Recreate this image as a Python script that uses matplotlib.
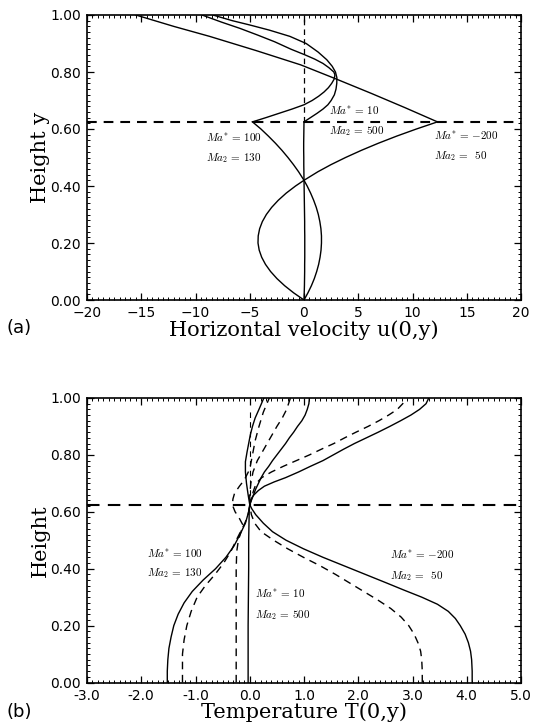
import matplotlib
matplotlib.use('Agg')
import matplotlib.pyplot as plt
from matplotlib.ticker import MultipleLocator, FormatStrFormatter

plt.rcParams['mathtext.fontset'] = 'cm'
plt.rcParams['lines.scale_dashes'] = False

# ---- (a) horizontal velocity u(0,y) ----
# lower layer (0 <= y <= 0.625)
y_low = [0, 0.025, 0.05, 0.075, 0.1, 0.125, 0.15, 0.175, 0.2, 0.225, 0.25, 0.275, 0.3,
         0.325, 0.35, 0.375, 0.4, 0.42, 0.45, 0.475, 0.5, 0.525, 0.55, 0.575, 0.6, 0.625]
u_m200_low = [0, -0.95, -1.78, -2.49, -3.08, -3.55, -3.90, -4.13, -4.24, -4.22, -4.09, -3.84,
              -3.47, -2.98, -2.37, -1.64, -0.78, 0, 1.28, 2.49, 3.83, 5.28, 6.85, 8.54,
              10.36, 12.3]
u_m100_low = [0, 0.36, 0.68, 0.95, 1.17, 1.35, 1.48, 1.57, 1.61, 1.61, 1.56, 1.46, 1.32,
              1.13, 0.89, 0.61, 0.29, 0, -0.50, -0.97, -1.48, -2.03, -2.63, -3.28, -3.97,
              -4.75]
u_m10_low = [0, 0.02, 0.04, 0.05, 0.06, 0.06, 0.07, 0.07, 0.07, 0.07, 0.06, 0.06, 0.05,
             0.04, 0.03, 0.02, 0.01, 0, -0.01, -0.02, -0.02, -0.03, -0.03, -0.02, -0.01, 0]
# upper layer (0.625 <= y <= 1)
y_m200_up = [0.625, 0.675, 0.725, 0.778, 0.825, 0.875, 0.925, 0.96, 1.0]
u_m200_up = [12.3, 9.3, 6.2, 2.8, -0.3, -4.4, -8.7, -12.0, -15.5]
y_m100_up = [0.625, 0.64, 0.655, 0.67, 0.685, 0.70, 0.715, 0.73, 0.745, 0.76, 0.775, 0.79,
             0.80, 0.815, 0.83, 0.845, 0.86, 0.88, 0.906, 0.93, 0.953, 0.975, 1.0]
u_m100_up = [-4.75, -3.5, -2.3, -1.1, 0.0, 0.75, 1.35, 1.85, 2.25, 2.55, 2.78, 2.85,
             2.75, 2.3, 1.75, 1.0, 0.1, -1.2, -2.7, -4.3, -5.9, -7.6, -9.4]
y_m10_up = [0.625, 0.64, 0.655, 0.67, 0.685, 0.70, 0.72, 0.74, 0.76, 0.78, 0.80, 0.82,
            0.843, 0.87, 0.90, 0.925, 0.947, 0.965, 0.98, 1.0]
u_m10_up = [0.0, 0.6, 1.2, 1.75, 2.2, 2.5, 2.8, 2.95, 3.02, 3.03, 2.9, 2.6,
            2.1, 1.3, 0.2, -1.3, -3.2, -5.0, -6.6, -8.4]

# ---- (b) temperature T(0,y) ----
y_m200_s = [0, 0.04, 0.08, 0.11, 0.14, 0.17, 0.20, 0.225, 0.25, 0.275, 0.30, 0.325, 0.35,
            0.38, 0.41, 0.44, 0.47, 0.50, 0.53, 0.56, 0.59, 0.61, 0.625, 0.65, 0.66, 0.675,
            0.69, 0.705, 0.72, 0.74, 0.76, 0.78, 0.80, 0.82, 0.84, 0.86, 0.88, 0.90, 0.92,
            0.94, 0.96, 0.98, 1.0]
T_m200_s = [4.10, 4.10, 4.09, 4.07, 4.03, 3.97, 3.88, 3.79, 3.66, 3.46, 3.17, 2.84, 2.52,
            2.13, 1.74, 1.35, 0.99, 0.67, 0.42, 0.25, 0.11, 0.04, 0.0, 0.04, 0.08, 0.16,
            0.27, 0.45, 0.66, 0.90, 1.12, 1.35, 1.54, 1.73, 1.93, 2.15, 2.37, 2.58, 2.78,
            2.97, 3.13, 3.25, 3.30]
y_m200_d = [0, 0.04, 0.08, 0.11, 0.14, 0.17, 0.20, 0.23, 0.26, 0.29, 0.32, 0.35, 0.38, 0.41,
            0.44, 0.47, 0.50, 0.53, 0.56, 0.59, 0.625, 0.65, 0.68, 0.70, 0.72, 0.74, 0.76,
            0.78, 0.80, 0.82, 0.84, 0.86, 0.88, 0.90, 0.92, 0.94, 0.96, 0.98, 1.0]
T_m200_d = [3.18, 3.18, 3.17, 3.15, 3.10, 3.03, 2.93, 2.79, 2.60, 2.36, 2.10, 1.84, 1.58,
            1.30, 0.99, 0.70, 0.44, 0.21, 0.09, 0.03, 0.0, 0.03, 0.08, 0.12, 0.22, 0.40,
            0.62, 0.86, 1.10, 1.32, 1.55, 1.75, 1.96, 2.18, 2.38, 2.56, 2.72, 2.82, 2.86]
y_m100_s = [0, 0.04, 0.08, 0.12, 0.16, 0.20, 0.24, 0.28, 0.32, 0.36, 0.40, 0.44, 0.48, 0.52,
            0.56, 0.60, 0.625, 0.64, 0.66, 0.68, 0.70, 0.72, 0.74, 0.76, 0.78, 0.80, 0.82,
            0.84, 0.86, 0.88, 0.90, 0.92, 0.94, 0.96, 0.98, 1.0]
T_m100_s = [-1.52, -1.52, -1.51, -1.49, -1.45, -1.40, -1.32, -1.21, -1.06, -0.86, -0.63,
            -0.44, -0.29, -0.18, -0.08, -0.02, 0.0, 0.03, 0.07, 0.11, 0.16, 0.21, 0.27, 0.35,
            0.42, 0.50, 0.58, 0.66, 0.73, 0.81, 0.88, 0.96, 1.02, 1.06, 1.09, 1.10]
y_m100_d = [0, 0.10, 0.15, 0.20, 0.25, 0.30, 0.34, 0.38, 0.42, 0.46, 0.50, 0.53, 0.56, 0.59,
            0.625, 0.66, 0.70, 0.74, 0.78, 0.82, 0.86, 0.90, 0.93, 0.96, 1.0]
T_m100_d = [-1.24, -1.24, -1.21, -1.16, -1.08, -0.97, -0.82, -0.64, -0.48, -0.35, -0.25,
            -0.17, -0.09, -0.03, 0.0, 0.0, 0.02, 0.06, 0.14, 0.26, 0.38, 0.50, 0.60, 0.68,
            0.75]
y_m10_s = [0, 0.2, 0.4, 0.5, 0.6, 0.625, 0.66, 0.70, 0.74, 0.776, 0.81, 0.84, 0.87, 0.90,
           0.93, 0.96, 1.0]
T_m10_s = [-0.03, -0.03, -0.02, -0.02, -0.01, 0.0, -0.03, -0.06, -0.08, -0.08, -0.05,
           -0.02, 0.01, 0.05, 0.10, 0.17, 0.26]
y_m10_d = [0, 0.2, 0.4, 0.46, 0.50, 0.53, 0.555, 0.58, 0.60, 0.624, 0.645, 0.665, 0.69,
           0.712, 0.75, 0.80, 0.85, 0.90, 0.95, 1.0]
T_m10_d = [-0.25, -0.25, -0.25, -0.24, -0.21, -0.16, -0.13, -0.20, -0.27, -0.32, -0.31,
           -0.28, -0.19, -0.10, 0.0, 0.05, 0.10, 0.17, 0.25, 0.36]

y_interface = 0.625

fig = plt.figure(figsize=(5.33, 7.23), dpi=100)
ax1 = fig.add_axes([87 / 533, 1 - 300 / 723, 434 / 533, 285 / 723])
ax2 = fig.add_axes([87 / 533, 1 - 682.5 / 723, 434 / 533, 284.5 / 723])

lw = 1.0
dash = (0, (5.5, 4.0))
label_font = dict(family='DejaVu Serif', fontsize=15)

# panel (a)
for u, y in [(u_m200_low, y_low), (u_m100_low, y_low), (u_m10_low, y_low),
             (u_m200_up, y_m200_up), (u_m100_up, y_m100_up), (u_m10_up, y_m10_up)]:
    ax1.plot(u, y, color='black', lw=lw)
ax1.axhline(y_interface, color='black', lw=1.5, linestyle=(0, (7, 5)))
ax1.plot([0, 0], [y_interface, 1.0], color='black', lw=0.9, linestyle=(0, (4, 3)))

ax1.set_xlim(-20, 20)
ax1.set_ylim(0, 1)
ax1.xaxis.set_major_locator(MultipleLocator(5))
ax1.xaxis.set_minor_locator(MultipleLocator(0.5))
ax1.yaxis.set_major_locator(MultipleLocator(0.2))
ax1.yaxis.set_minor_locator(MultipleLocator(0.02))
ax1.yaxis.set_major_formatter(FormatStrFormatter('%.2f'))
ax1.set_xlabel('Horizontal velocity u(0,y)', labelpad=0, **label_font)
ax1.set_ylabel('Height y', labelpad=0, **label_font)

ann = dict(fontsize=8, color='black', ha='left', va='center')
ax1.text(-9.0, 0.568, r'$Ma^{*}\,=\,100$', **ann)
ax1.text(-9.0, 0.498, r'$Ma_{2}\,=\,130$', **ann)
ax1.text(2.3, 0.663, r'$Ma^{*}\,=\,10$', **ann)
ax1.text(2.3, 0.594, r'$Ma_{2}\,=\,500$', **ann)
ax1.text(12.0, 0.575, r'$Ma^{*}\,=\,{-}200$', **ann)
ax1.text(12.0, 0.505, r'$Ma_{2}\,=\;\;50$', **ann)

# panel (b)
for T, y in [(T_m200_s, y_m200_s), (T_m100_s, y_m100_s), (T_m10_s, y_m10_s)]:
    ax2.plot(T, y, color='black', lw=lw)
for T, y in [(T_m200_d, y_m200_d), (T_m100_d, y_m100_d), (T_m10_d, y_m10_d)]:
    ax2.plot(T, y, color='black', lw=lw, linestyle=dash)
ax2.axhline(y_interface, color='black', lw=1.5, linestyle=(0, (9, 6)))
ax2.plot([0, 0], [y_interface, 0.96], color='black', lw=0.8, linestyle=(0, (4, 3)))

ax2.set_xlim(-3, 5)
ax2.set_ylim(0, 1)
ax2.xaxis.set_major_locator(MultipleLocator(1))
ax2.xaxis.set_minor_locator(MultipleLocator(0.1))
ax2.xaxis.set_major_formatter(FormatStrFormatter('%.1f'))
ax2.yaxis.set_major_locator(MultipleLocator(0.2))
ax2.yaxis.set_minor_locator(MultipleLocator(0.02))
ax2.yaxis.set_major_formatter(FormatStrFormatter('%.2f'))
ax2.set_xlabel('Temperature T(0,y)', labelpad=0, **label_font)
ax2.set_ylabel('Height', labelpad=0, **label_font)

ax2.text(-1.9, 0.454, r'$Ma^{*}\,=\,100$', **ann)
ax2.text(-1.9, 0.384, r'$Ma_{2}\,=\,130$', **ann)
ax2.text(0.1, 0.311, r'$Ma^{*}\,=\,10$', **ann)
ax2.text(0.1, 0.237, r'$Ma_{2}\,=\,500$', **ann)
ax2.text(2.58, 0.448, r'$Ma^{*}\,=\,{-}200$', **ann)
ax2.text(2.58, 0.374, r'$Ma_{2}\,=\;\;50$', **ann)

for ax in (ax1, ax2):
    for s in ax.spines.values():
        s.set_linewidth(1.2)
    ax.tick_params(which='both', direction='in', top=True, right=True, labelsize=10)
    ax.tick_params(which='major', length=5, width=0.9, pad=4.5)
    ax.tick_params(which='minor', length=2.5, width=0.7)

fig.text(0.012, 1 - 328 / 723, '(a)', fontsize=13, va='center', ha='left')
fig.text(0.012, 1 - 712 / 723, '(b)', fontsize=13, va='center', ha='left')

fig.savefig('out.png', dpi=100)
